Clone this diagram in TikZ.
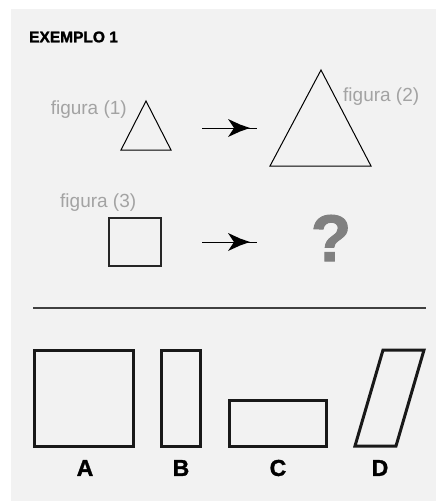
\documentclass[tikz,border=0pt]{standalone}
\usepackage{fontspec}
\setmainfont{Liberation Sans}
\newfontfamily\heavy[FakeBold=1.5]{Liberation Sans Bold}
\usetikzlibrary{arrows.meta}
\definecolor{bg}{HTML}{F2F2F2}
\definecolor{lbl}{HTML}{A3A3A3}
\definecolor{qm}{HTML}{808080}
\begin{document}
\begin{tikzpicture}[x=1pt,y=-1pt,
  thinshape/.style={draw=black,line width=1pt,line join=miter},
  thickshape/.style={draw=black!90,line width=3pt,line join=miter},
  fig/.style={text=lbl,font=\fontsize{19}{19}\selectfont,inner sep=0pt},
  letter/.style={font=\heavy\fontsize{23}{23}\selectfont,inner sep=0pt},
  conn/.style={draw=black,line width=1pt},
  head/.style={fill=black}]
\useasboundingbox (0,0) rectangle (436,501);
\fill[bg] (11,9) rectangle (436,501);
\node[anchor=west,inner sep=0pt,font=\heavy\fontsize{15.5}{15.5}\selectfont] (title) at (29,37) {EXEMPLO 1};
% figure 1
\coordinate (t1a) at (146,101);
\coordinate (t1b) at (121,150);
\coordinate (t1c) at (171,150);
\draw[thinshape] (t1a) -- (t1b) -- (t1c) -- cycle;
\node[fig,anchor=east] (f1) at (127,110) {figura (1)};
% arrow 1
\coordinate (a1s) at (202,128);
\coordinate (a1e) at (257,128);
\draw[conn] (a1s) -- (a1e);
\fill[head] (228,119) -- (240,124.5) -- (250,128) -- (240,131.5) -- (228,137) -- (234,128) -- cycle;
% figure 2
\coordinate (t2a) at (321,70);
\coordinate (t2b) at (270,166);
\coordinate (t2c) at (371,166);
\draw[thinshape] (t2a) -- (t2b) -- (t2c) -- cycle;
\node[fig,anchor=west] (f2) at (343,97) {figura (2)};
% figure 3
\node[fig,anchor=west] (f3) at (60,203) {figura (3)};
\node[draw=black!85,line width=1.4pt,minimum width=52pt,minimum height=48pt,inner sep=0pt] (sq) at (135,242) {};
% arrow 2
\coordinate (a2s) at (202,242);
\coordinate (a2e) at (257,242);
\draw[conn] (a2s) -- (a2e);
\fill[head] (228,233) -- (240,238.5) -- (250,242) -- (240,245.5) -- (228,251) -- (234,242) -- cycle;
\node[text=qm,font=\heavy\fontsize{66}{66}\selectfont,inner sep=0pt] (q) at (331,238) {?};
% separator
\coordinate (s1) at (33,308);
\coordinate (s2) at (426,308);
\draw[black!75,line width=1.3pt] (s1) -- (s2);
% options
\draw[thickshape] (34,350) rectangle (133,446);
\draw[thickshape] (161,350) rectangle (200,446);
\draw[thickshape] (229,400) rectangle (326,446);
\draw[thickshape] (383,350) -- (424,350) -- (396,446) -- (355,446) -- cycle;
\node[letter] (A) at (85,468) {A};
\node[letter] (B) at (181,468) {B};
\node[letter] (C) at (278,468) {C};
\node[letter] (D) at (380,468) {D};
\end{tikzpicture}
\end{document}
